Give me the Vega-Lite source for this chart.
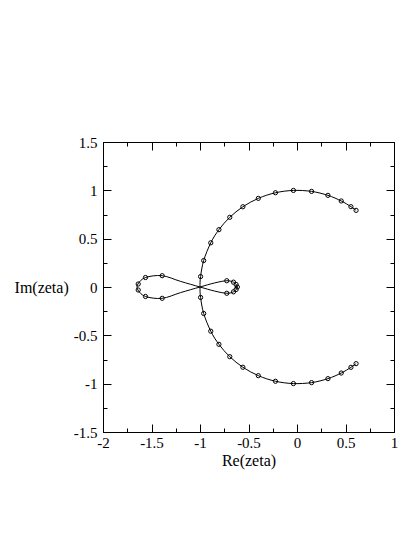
{
  "$schema": "https://vega.github.io/schema/vega-lite/v6.json",
  "autosize": "none",
  "width": 291,
  "height": 290,
  "padding": {"left": 103, "top": 142, "right": 21, "bottom": 105},
  "background": "white",
  "config": {
    "view": {"stroke": "black", "strokeWidth": 1},
    "font": "Liberation Serif",
    "axis": {
      "labelFont": "Liberation Serif",
      "labelFontSize": 15,
      "labelColor": "black",
      "titleFont": "Liberation Serif",
      "titleFontSize": 16,
      "titleFontWeight": "normal",
      "titleColor": "black",
      "domainColor": "black",
      "domainWidth": 1,
      "tickColor": "black",
      "tickWidth": 1,
      "grid": false,
      "labelOverlap": false,
      "labelFlush": false
    }
  },
  "datasets": {
    "arc": [
      {"i": 0, "re": 0.609, "im": 0.793},
      {"i": 1, "re": 0.556, "im": 0.831},
      {"i": 2, "re": 0.456, "im": 0.890},
      {"i": 3, "re": 0.319, "im": 0.948},
      {"i": 4, "re": 0.150, "im": 0.989},
      {"i": 5, "re": -0.037, "im": 0.999},
      {"i": 6, "re": -0.222, "im": 0.975},
      {"i": 7, "re": -0.399, "im": 0.917},
      {"i": 8, "re": -0.558, "im": 0.830},
      {"i": 9, "re": -0.693, "im": 0.721},
      {"i": 10, "re": -0.805, "im": 0.593},
      {"i": 11, "re": -0.889, "im": 0.457},
      {"i": 12, "re": -0.962, "im": 0.274},
      {"i": 13, "re": -0.994, "im": 0.108},
      {"i": 14, "re": -1.0, "im": 0.0},
      {"i": 15, "re": -0.994, "im": -0.108},
      {"i": 16, "re": -0.962, "im": -0.274},
      {"i": 17, "re": -0.889, "im": -0.457},
      {"i": 18, "re": -0.805, "im": -0.593},
      {"i": 19, "re": -0.693, "im": -0.721},
      {"i": 20, "re": -0.558, "im": -0.830},
      {"i": 21, "re": -0.399, "im": -0.917},
      {"i": 22, "re": -0.222, "im": -0.975},
      {"i": 23, "re": -0.037, "im": -0.999},
      {"i": 24, "re": 0.150, "im": -0.989},
      {"i": 25, "re": 0.319, "im": -0.948},
      {"i": 26, "re": 0.456, "im": -0.890},
      {"i": 27, "re": 0.556, "im": -0.831},
      {"i": 28, "re": 0.609, "im": -0.793}
    ],
    "fig8": [
      {"i": 0, "re": -1.0, "im": 0.0},
      {"i": 1, "re": -1.2, "im": 0.058},
      {"i": 2, "re": -1.39, "im": 0.117},
      {"i": 3, "re": -1.562, "im": 0.098},
      {"i": 4, "re": -1.64, "im": 0.031},
      {"i": 5, "re": -1.64, "im": -0.031},
      {"i": 6, "re": -1.562, "im": -0.098},
      {"i": 7, "re": -1.39, "im": -0.117},
      {"i": 8, "re": -1.2, "im": -0.058},
      {"i": 9, "re": -1.0, "im": 0.0},
      {"i": 10, "re": -0.85, "im": 0.042},
      {"i": 11, "re": -0.724, "im": 0.065},
      {"i": 12, "re": -0.655, "im": 0.05},
      {"i": 13, "re": -0.628, "im": 0.026},
      {"i": 14, "re": -0.615, "im": 0.0},
      {"i": 15, "re": -0.628, "im": -0.026},
      {"i": 16, "re": -0.655, "im": -0.05},
      {"i": 17, "re": -0.724, "im": -0.065},
      {"i": 18, "re": -0.85, "im": -0.042}
    ],
    "marks": [
      {"re": 0.609, "im": 0.793}, {"re": 0.556, "im": 0.831}, {"re": 0.456, "im": 0.890},
      {"re": 0.319, "im": 0.948}, {"re": 0.150, "im": 0.989}, {"re": -0.037, "im": 0.999},
      {"re": -0.222, "im": 0.975}, {"re": -0.399, "im": 0.917}, {"re": -0.558, "im": 0.830},
      {"re": -0.693, "im": 0.721}, {"re": -0.805, "im": 0.593}, {"re": -0.889, "im": 0.457},
      {"re": -0.962, "im": 0.274}, {"re": -0.994, "im": 0.108},
      {"re": 0.609, "im": -0.793}, {"re": 0.556, "im": -0.831}, {"re": 0.456, "im": -0.890},
      {"re": 0.319, "im": -0.948}, {"re": 0.150, "im": -0.989}, {"re": -0.037, "im": -0.999},
      {"re": -0.222, "im": -0.975}, {"re": -0.399, "im": -0.917}, {"re": -0.558, "im": -0.830},
      {"re": -0.693, "im": -0.721}, {"re": -0.805, "im": -0.593}, {"re": -0.889, "im": -0.457},
      {"re": -0.962, "im": -0.274}, {"re": -0.994, "im": -0.108},
      {"re": -1.39, "im": 0.117}, {"re": -1.562, "im": 0.098}, {"re": -1.637, "im": 0.031},
      {"re": -1.39, "im": -0.117}, {"re": -1.562, "im": -0.098}, {"re": -1.637, "im": -0.031},
      {"re": -0.724, "im": 0.065}, {"re": -0.655, "im": 0.05}, {"re": -0.628, "im": 0.026},
      {"re": -0.615, "im": 0.0},
      {"re": -0.724, "im": -0.065}, {"re": -0.655, "im": -0.05}, {"re": -0.628, "im": -0.026}
    ]
  },
  "resolve": {"axis": {"x": "independent", "y": "independent"}},
  "layer": [
    {
      "data": {"name": "arc"},
      "mark": {"type": "line", "interpolate": "cardinal", "stroke": "black", "strokeWidth": 1},
      "encoding": {
        "x": {
          "field": "re", "type": "quantitative",
          "scale": {"domain": [-2, 1], "nice": false, "zero": false},
          "axis": {
            "orient": "bottom",
            "title": "Re(zeta)",
            "titlePadding": -2,
            "values": [-2, -1.75, -1.5, -1.25, -1, -0.75, -0.5, -0.25, 0, 0.25, 0.5, 0.75, 1],
            "labelExpr": "abs(datum.value*2 - round(datum.value*2)) < 1e-6 ? '' + datum.value : ''",
            "tickSize": {"condition": {"test": "abs(datum.value*2 - round(datum.value*2)) < 1e-6", "value": -8}, "value": -4},
            "labelPadding": 11
          }
        },
        "y": {
          "field": "im", "type": "quantitative",
          "scale": {"domain": [-1.5, 1.5], "nice": false, "zero": false},
          "axis": {
            "orient": "left",
            "title": "Im(zeta)",
            "titleAngle": 0,
            "titleAlign": "right",
            "titleBaseline": "middle",
            "titlePadding": 5,
            "values": [-1.5, -1.25, -1, -0.75, -0.5, -0.25, 0, 0.25, 0.5, 0.75, 1, 1.25, 1.5],
            "labelExpr": "abs(datum.value*2 - round(datum.value*2)) < 1e-6 ? '' + datum.value : ''",
            "tickSize": {"condition": {"test": "abs(datum.value*2 - round(datum.value*2)) < 1e-6", "value": -8}, "value": -4},
            "labelPadding": 14
          }
        },
        "order": {"field": "i", "type": "quantitative"}
      }
    },
    {
      "data": {"name": "fig8"},
      "mark": {"type": "line", "interpolate": "cardinal-closed", "stroke": "black", "strokeWidth": 1},
      "encoding": {
        "x": {"field": "re", "type": "quantitative", "axis": null},
        "y": {"field": "im", "type": "quantitative", "axis": null},
        "order": {"field": "i", "type": "quantitative"}
      }
    },
    {
      "data": {"name": "marks"},
      "mark": {"type": "point", "shape": "circle", "filled": false, "stroke": "black", "strokeWidth": 1, "size": 18, "opacity": 1},
      "encoding": {
        "x": {
          "field": "re", "type": "quantitative",
          "axis": {
            "orient": "top",
            "title": null,
            "labels": false,
            "values": [-2, -1.75, -1.5, -1.25, -1, -0.75, -0.5, -0.25, 0, 0.25, 0.5, 0.75, 1],
            "tickSize": {"condition": {"test": "abs(datum.value*2 - round(datum.value*2)) < 1e-6", "value": -8}, "value": -4}
          }
        },
        "y": {
          "field": "im", "type": "quantitative",
          "axis": {
            "orient": "right",
            "title": null,
            "labels": false,
            "values": [-1.5, -1.25, -1, -0.75, -0.5, -0.25, 0, 0.25, 0.5, 0.75, 1, 1.25, 1.5],
            "tickSize": {"condition": {"test": "abs(datum.value*2 - round(datum.value*2)) < 1e-6", "value": -8}, "value": -4}
          }
        }
      }
    }
  ]
}
